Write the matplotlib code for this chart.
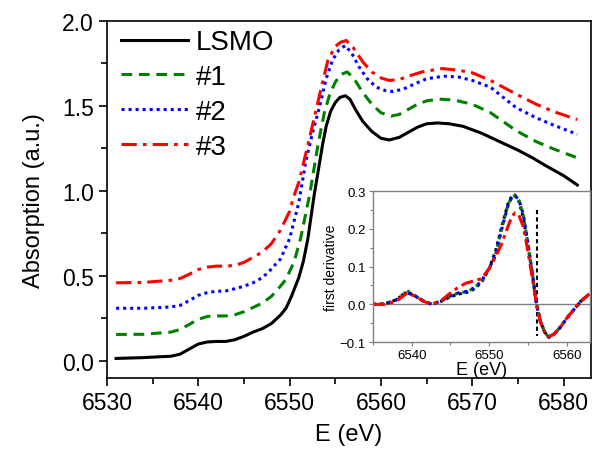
import matplotlib

matplotlib.use("Agg")

import matplotlib.pyplot as plt
from matplotlib.ticker import MultipleLocator

plt.rcParams.update(
    {
        "font.family": ["Liberation Sans", "DejaVu Sans"],
        "axes.linewidth": 1.2,
        "xtick.direction": "out",
        "ytick.direction": "out",
    }
)

# main XANES spectra
E_LSMO = [6531, 6534, 6537, 6538, 6539, 6540, 6541, 6542, 6543, 6544, 6545, 6546, 6547, 6548, 6549,
          6549.6, 6550.2, 6551, 6551.5, 6552, 6552.7, 6553.2, 6553.6, 6554, 6554.5, 6555, 6555.5,
          6556.1, 6556.6, 6557.2, 6558, 6559, 6560, 6560.9, 6562, 6563, 6564, 6565, 6566.2, 6567.5,
          6569, 6571, 6573, 6575, 6576.6, 6578, 6580, 6581.5]
A_LSMO = [0.015, 0.02, 0.028, 0.04, 0.07, 0.10, 0.112, 0.115, 0.115, 0.125, 0.145, 0.17, 0.19, 0.22, 0.27,
          0.31, 0.38, 0.49, 0.585, 0.72, 0.98, 1.14, 1.27, 1.38, 1.47, 1.52, 1.55,
          1.56, 1.54, 1.48, 1.41, 1.35, 1.31, 1.30, 1.315, 1.345, 1.375, 1.395, 1.40, 1.395,
          1.38, 1.34, 1.29, 1.24, 1.195, 1.15, 1.09, 1.035]

E_S1 = [6531, 6534, 6537, 6538, 6539, 6540, 6541, 6542, 6543, 6544, 6545, 6546, 6547, 6548, 6549,
        6549.6, 6550.5, 6551.2, 6552.2, 6553.1, 6553.8, 6554.4, 6555, 6555.6, 6556.3, 6557, 6558,
        6559, 6560, 6561.1, 6562, 6563, 6564, 6565, 6566.4, 6568, 6570, 6572, 6574.8, 6577, 6579, 6581.5]
A_S1 = [0.156, 0.157, 0.17, 0.185, 0.215, 0.245, 0.262, 0.265, 0.265, 0.272, 0.29, 0.315, 0.34, 0.38, 0.44,
        0.48, 0.585, 0.72, 0.98, 1.27, 1.46, 1.57, 1.64, 1.685, 1.70, 1.665, 1.58,
        1.51, 1.46, 1.44, 1.45, 1.48, 1.51, 1.53, 1.54, 1.535, 1.51, 1.46, 1.355, 1.29, 1.245, 1.195]

E_S2 = [6531, 6534, 6537, 6538, 6539, 6540, 6541, 6542, 6543, 6544, 6545, 6546, 6547, 6547.8, 6549,
        6550, 6551, 6551.8, 6552.5, 6553.3, 6554, 6554.7, 6555.4, 6556.1, 6556.8, 6557.6, 6558.5,
        6559.5, 6560.5, 6561.3, 6562.5, 6563.5, 6565, 6566.9, 6568.5, 6570, 6572, 6574.8, 6577, 6579, 6581.5]
A_S2 = [0.31, 0.31, 0.318, 0.327, 0.355, 0.386, 0.403, 0.41, 0.412, 0.425, 0.44, 0.46, 0.49, 0.53, 0.60,
        0.72, 0.93, 1.18, 1.34, 1.50, 1.66, 1.77, 1.83, 1.855, 1.81, 1.73, 1.66,
        1.61, 1.59, 1.585, 1.60, 1.625, 1.66, 1.675, 1.67, 1.65, 1.61, 1.49, 1.43, 1.385, 1.333]

E_S3 = [6531, 6534, 6537, 6538, 6539, 6540, 6541, 6542, 6543, 6544, 6545, 6546, 6547, 6548, 6549,
        6550, 6550.4, 6551, 6552, 6553.3, 6554.2, 6555, 6555.6, 6556.2, 6557, 6558, 6559, 6560,
        6560.9, 6562, 6563, 6564.5, 6566.7, 6568.5, 6570, 6572, 6574.8, 6577, 6579, 6581.5]
A_S3 = [0.46, 0.462, 0.475, 0.485, 0.51, 0.538, 0.552, 0.558, 0.558, 0.562, 0.58, 0.61, 0.64, 0.69, 0.77,
        0.88, 0.96, 1.05, 1.27, 1.57, 1.77, 1.85, 1.875, 1.885, 1.84, 1.76, 1.70, 1.665,
        1.65, 1.655, 1.675, 1.70, 1.72, 1.71, 1.695, 1.65, 1.57, 1.51, 1.465, 1.42]

# inset: first derivative
E_D = [6535, 6536.5, 6538, 6539.4, 6540.6, 6541.5, 6542.6, 6543.8, 6545, 6546, 6547, 6548, 6549, 6550,
       6550.8, 6551.6, 6552.4, 6552.9, 6553.3, 6553.8, 6554.4, 6555, 6555.6, 6556.1, 6556.6, 6557.2,
       6557.7, 6558.4, 6559.2, 6560.1, 6561, 6561.8, 6562.9]
D_LSMO = [0, 0.001, 0.012, 0.033, 0.02, 0.009, 0.0, 0.008, 0.02, 0.027, 0.031, 0.04, 0.058, 0.095,
          0.14, 0.205, 0.265, 0.287, 0.29, 0.275, 0.23, 0.155, 0.075, 0, -0.045, -0.075,
          -0.086, -0.078, -0.06, -0.035, -0.012, 0.008, 0.027]
D_S1 = [0, 0.001, 0.012, 0.036, 0.021, 0.009, 0.0, 0.009, 0.022, 0.03, 0.033, 0.042, 0.06, 0.095,
        0.13, 0.2, 0.262, 0.284, 0.288, 0.278, 0.235, 0.16, 0.078, 0, -0.045, -0.076,
        -0.087, -0.078, -0.06, -0.034, -0.012, 0.008, 0.027]
D_S2 = [0, 0.001, 0.011, 0.031, 0.02, 0.009, 0.0, 0.009, 0.022, 0.03, 0.034, 0.043, 0.061, 0.096,
        0.13, 0.198, 0.26, 0.283, 0.287, 0.279, 0.238, 0.162, 0.078, 0, -0.046, -0.077,
        -0.088, -0.079, -0.06, -0.034, -0.012, 0.008, 0.027]
D_S3 = [0, 0.0, 0.008, 0.03, 0.02, 0.008, 0.0, 0.01, 0.03, 0.045, 0.056, 0.062, 0.068, 0.095,
        0.125, 0.16, 0.205, 0.232, 0.242, 0.238, 0.205, 0.14, 0.065, 0, -0.045, -0.075,
        -0.086, -0.078, -0.06, -0.034, -0.012, 0.008, 0.027]
E_EDGE = 6556.1

LABELS = ["LSMO", "#1", "#2", "#3"]
COLORS = ["black", "#008000", "#0000ff", "#ff0000"]
STYLES = ["-", (0, (3.5, 2.2)), (0, (1, 1.3)), (0, (5, 2, 1.2, 2))]


def main() -> int:
    fig = plt.figure(figsize=(5.92, 4.52), dpi=100)
    ax = fig.add_axes([0.1807, 0.1615, 0.8176, 0.790])
    spectra = [(E_LSMO, A_LSMO), (E_S1, A_S1), (E_S2, A_S2), (E_S3, A_S3)]
    for (e, a), lab, col, ls in zip(spectra, LABELS, COLORS, STYLES):
        ax.plot(e, a, color=col, linestyle=ls, lw=2.2, label=lab)
    ax.set_xlim(6530, 6583)
    ax.set_ylim(-0.1, 2.0)
    ax.xaxis.set_major_locator(MultipleLocator(10))
    ax.xaxis.set_minor_locator(MultipleLocator(5))
    ax.yaxis.set_major_locator(MultipleLocator(0.5))
    ax.yaxis.set_minor_locator(MultipleLocator(0.25))
    ax.tick_params(which="major", length=6, width=1.2, labelsize=16.5)
    ax.tick_params(which="minor", length=4, width=1.2)
    ax.set_xlabel("E (eV)", fontsize=17, labelpad=6)
    ax.set_ylabel("Absorption (a.u.)", fontsize=17, labelpad=12)
    ax.legend(loc="upper left", bbox_to_anchor=(0.012, 1.0), frameon=False, fontsize=20,
              handlelength=2.4, handletextpad=0.3, labelspacing=0.32, borderaxespad=0.1, borderpad=0.2)

    ins = fig.add_axes([0.630, 0.241, 0.3666, 0.334])
    ins.axhline(0, color="gray", lw=1.0)
    ins.plot([E_EDGE, E_EDGE], [0.25, -0.083], color="black", linestyle=(0, (2, 1.5)), lw=1.5)
    derivs = [D_LSMO, D_S1, D_S2, D_S3]
    istyles = [(0, (1, 1.2)), (0, (1, 1.5)), (0, (1, 1.5)), (0, (4, 1.5, 1.2, 1.5))]
    for d, col, ls in zip(derivs, COLORS, istyles):
        ins.plot(E_D, d, color=col, linestyle=ls, lw=2.2)
    ins.set_xlim(6535, 6563)
    ins.set_ylim(-0.1, 0.3)
    ins.xaxis.set_major_locator(MultipleLocator(10))
    ins.xaxis.set_minor_locator(MultipleLocator(5))
    ins.yaxis.set_major_locator(MultipleLocator(0.1))
    ins.yaxis.set_minor_locator(MultipleLocator(0.05))
    for sp in ins.spines.values():
        sp.set_color("#808080")
        sp.set_linewidth(1.0)
    ins.tick_params(which="major", length=3, width=0.8, labelsize=9.5, color="#808080", pad=2)
    ins.tick_params(which="minor", length=2, width=0.8, color="#808080")
    ins.set_xlabel("E (eV)", fontsize=13, labelpad=0)
    ins.set_ylabel("first derivative", fontsize=10, labelpad=1)

    fig.savefig("out.png", dpi=100)
    plt.close(fig)
    return 0


if __name__ == "__main__":
    raise SystemExit(main())
